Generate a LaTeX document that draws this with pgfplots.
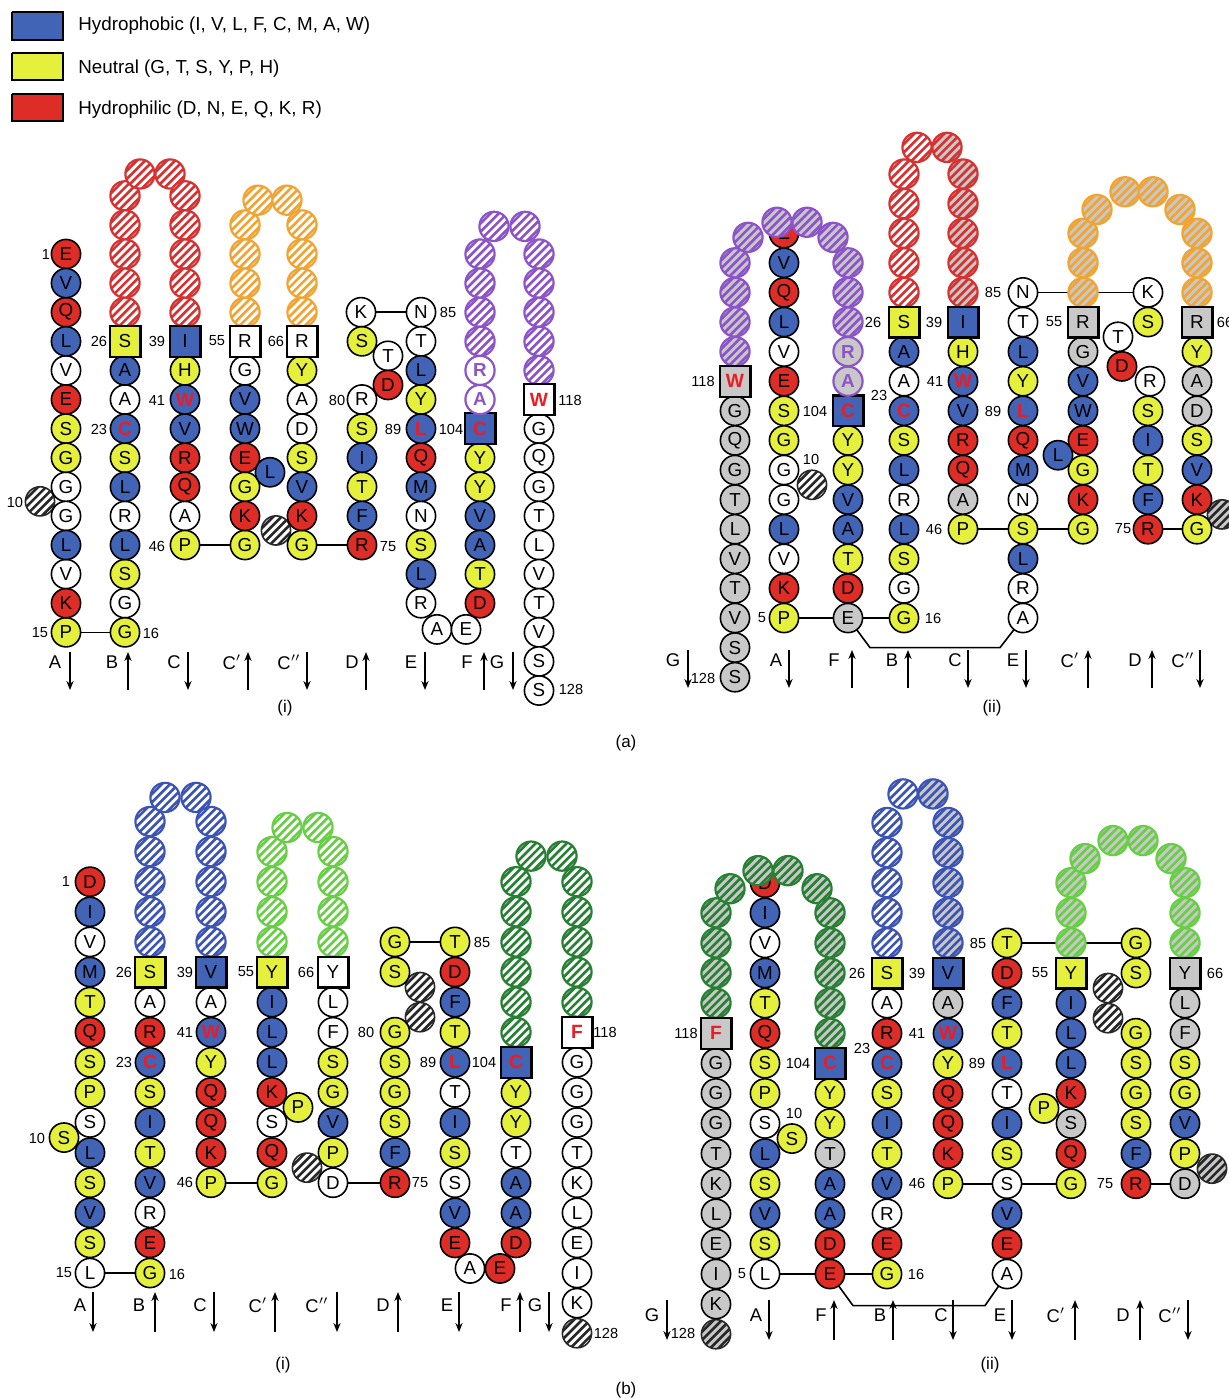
\documentclass[border=0pt]{standalone}
\usepackage{fontspec}
\setmainfont{Liberation Sans}
\usepackage{pgfplots}
\usepackage{pgfplotstable}
\pgfplotsset{compat=1.18}
\usetikzlibrary{arrows.meta}

\definecolor{cb}{RGB}{66,100,182}
\definecolor{cy}{RGB}{228,240,60}
\definecolor{cr}{RGB}{222,44,38}
\definecolor{cg}{RGB}{200,200,200}
\definecolor{cred}{RGB}{236,28,36}
\definecolor{cpur}{RGB}{140,84,200}
\definecolor{hR}{RGB}{214,50,50}
\definecolor{hO}{RGB}{240,164,52}
\definecolor{hP}{RGB}{140,84,200}
\definecolor{hB}{RGB}{60,84,180}
\definecolor{hL}{RGB}{104,206,70}
\definecolor{hG}{RGB}{40,128,52}
\definecolor{hK}{RGB}{40,40,40}

\pgfdeclareplotmark{hatch}{%
  \pgfpathcircle{\pgfpointorigin}{\pgfplotmarksize}%
  \pgfusepath{fill}%
  \begin{pgfscope}%
    \pgfpathcircle{\pgfpointorigin}{\pgfplotmarksize}%
    \pgfusepath{clip}%
    \pgfsetlinewidth{1.3pt}%
    \pgfpathmoveto{\pgfpoint{-22.3pt}{-10pt}}\pgfpathlineto{\pgfpoint{-2.3pt}{10pt}}%
    \pgfpathmoveto{\pgfpoint{-18.2pt}{-10pt}}\pgfpathlineto{\pgfpoint{1.8pt}{10pt}}%
    \pgfpathmoveto{\pgfpoint{-14.1pt}{-10pt}}\pgfpathlineto{\pgfpoint{5.9pt}{10pt}}%
    \pgfpathmoveto{\pgfpoint{-10pt}{-10pt}}\pgfpathlineto{\pgfpoint{10pt}{10pt}}%
    \pgfpathmoveto{\pgfpoint{-5.9pt}{-10pt}}\pgfpathlineto{\pgfpoint{14.1pt}{10pt}}%
    \pgfpathmoveto{\pgfpoint{-1.8pt}{-10pt}}\pgfpathlineto{\pgfpoint{18.2pt}{10pt}}%
    \pgfpathmoveto{\pgfpoint{2.3pt}{-10pt}}\pgfpathlineto{\pgfpoint{22.3pt}{10pt}}%
    \pgfusepath{stroke}%
  \end{pgfscope}%
  \pgfpathcircle{\pgfpointorigin}{\pgfplotmarksize}%
  \pgfusepath{stroke}%
}

\pgfplotsset{
  rs/.style={only marks, mark size=7.3pt, point meta=explicit symbolic,
    nodes near coords={\pgfplotspointmeta},
    every node near coord/.append style={anchor=center, inner sep=0pt, text=black,
      font=\fontsize{9.4}{10}\selectfont}},
  B/.style={rs, mark=*, mark options={fill=cb, draw=black, line width=0.8pt}},
  Y/.style={rs, mark=*, mark options={fill=cy, draw=black, line width=0.8pt}},
  R/.style={rs, mark=*, mark options={fill=cr, draw=black, line width=0.8pt}},
  W/.style={rs, mark=*, mark options={fill=white, draw=black, line width=0.8pt}},
  G/.style={rs, mark=*, mark options={fill=cg, draw=black, line width=0.8pt}},
  PW/.style={rs, mark=*, mark options={fill=white, draw=cpur, line width=1.1pt},
    every node near coord/.append style={text=cpur, font=\fontsize{9.4}{10}\selectfont\bfseries}},
  PG/.style={rs, mark=*, mark options={fill=cg, draw=cpur, line width=1.1pt},
    every node near coord/.append style={text=cpur, font=\fontsize{9.4}{10}\selectfont\bfseries}},
  BS/.style={rs, mark=square*, mark size=7.7pt, mark options={fill=cb, draw=black, line width=1.1pt}},
  YS/.style={rs, mark=square*, mark size=7.7pt, mark options={fill=cy, draw=black, line width=1.1pt}},
  WS/.style={rs, mark=square*, mark size=7.7pt, mark options={fill=white, draw=black, line width=1.1pt}},
  GS/.style={rs, mark=square*, mark size=7.7pt, mark options={fill=cg, draw=black, line width=1.1pt}},
  RT/.style={every node near coord/.append style={text=cred, font=\fontsize{9.6}{10}\selectfont\bfseries}},
  ya1/.style={y filter/.expression={254+29.1*y}},
  ya2/.style={y filter/.expression={322+29.6*y}},
  yb1/.style={y filter/.expression={972+30.1*y}},
  yb2/.style={y filter/.expression={973+30.1*y}},
  hat/.style={only marks, scatter, scatter src=explicit symbolic, mark size=7.3pt,
    scatter/classes={
      Rw={mark=hatch,draw=hR,fill=white,line width=1.1pt},
      Rg={mark=hatch,draw=hR,fill=cg,line width=1.1pt},
      Ow={mark=hatch,draw=hO,fill=white,line width=1.1pt},
      Og={mark=hatch,draw=hO,fill=cg,line width=1.1pt},
      Pw={mark=hatch,draw=hP,fill=white,line width=1.1pt},
      Pg={mark=hatch,draw=hP,fill=cg,line width=1.1pt},
      Bw={mark=hatch,draw=hB,fill=white,line width=1.1pt},
      Bg={mark=hatch,draw=hB,fill=cg,line width=1.1pt},
      Lw={mark=hatch,draw=hL,fill=white,line width=1.1pt},
      Lg={mark=hatch,draw=hL,fill=cg,line width=1.1pt},
      Gw={mark=hatch,draw=hG,fill=white,line width=1.1pt},
      Gg={mark=hatch,draw=hG,fill=cg,line width=1.1pt},
      Kw={mark=hatch,draw=hK,fill=white,line width=0.8pt},
      Kg={mark=hatch,draw=hK,fill=cg,line width=0.8pt}}},
  conn/.style={black, line width=0.8pt, no marks},
}

\newcommand{\sar}[3]{\addplot[black, line width=0.9pt, -{Stealth[length=4.5pt,width=3.6pt]}] coordinates {(#1,#2) (#1,#3)};}
\newcommand{\num}[3]{\node[font=\fontsize{7.3}{8}\selectfont] at (axis cs:#1,#2) {#3};}
\newcommand{\stl}[3]{\node[font=\fontsize{9.2}{10}\selectfont] at (axis cs:#1,#2) {#3};}

% hatched (unlabelled) loop circles: x, row index k, class
\pgfplotstableread{
x k c
125 -2 Rw
125 -1 Rw
125 0 Rw
125 1 Rw
125 2 Rw
140 -2.75 Rw
170 -2.75 Rw
185 -2 Rw
185 -1 Rw
185 0 Rw
185 1 Rw
185 2 Rw
245 -1 Ow
245 0 Ow
245 1 Ow
245 2 Ow
258 -1.85 Ow
287 -1.85 Ow
302 -1 Ow
302 0 Ow
302 1 Ow
302 2 Ow
480 0 Pw
480 1 Pw
480 2 Pw
480 3 Pw
494 -0.95 Pw
525 -0.95 Pw
539 0 Pw
539 1 Pw
539 2 Pw
539 3 Pw
539 4 Pw
40 8.5 Kw
276 9.5 Kw
}\hatAi

\pgfplotstableread{
x k c
735 -2 Pg
735 -1 Pg
735 0 Pg
735 1 Pg
748 -2.86 Pg
777 -3.37 Pg
807 -3.37 Pg
833 -2.86 Pg
848 -2 Pg
848 -1 Pg
848 0 Pg
904 -5 Rw
904 -4 Rw
904 -3 Rw
904 -2 Rw
904 -1 Rw
917 -5.9 Rw
947 -5.9 Rg
963 -5 Rg
963 -4 Rg
963 -3 Rg
963 -2 Rg
963 -1 Rg
1083 -3 Og
1083 -2 Og
1083 -1 Og
1097 -3.8 Og
1125 -4.4 Og
1153 -4.4 Og
1180 -3.8 Og
1197 -3 Og
1197 -2 Og
1197 -1 Og
812 5.5 Kw
1222 6.5 Kg
}\hatAii

\pgfplotstableread{
x k c
150 -5 Bw
150 -4 Bw
150 -3 Bw
150 -2 Bw
150 -1 Bw
165 -5.8 Bw
196 -5.8 Bw
211 -5 Bw
211 -4 Bw
211 -3 Bw
211 -2 Bw
211 -1 Bw
272 -4 Lw
272 -3 Lw
272 -2 Lw
272 -1 Lw
287 -4.8 Lw
318 -4.8 Lw
333 -4 Lw
333 -3 Lw
333 -2 Lw
333 -1 Lw
516 -3 Gw
516 -2 Gw
516 -1 Gw
516 0 Gw
516 1 Gw
516 2 Gw
531 -3.85 Gw
562 -3.85 Gw
577 -3 Gw
577 -2 Gw
577 -1 Gw
577 0 Gw
577 1 Gw
307 6.5 Kw
420 0.5 Kw
420 1.5 Kw
577 12 Kw
}\hatBi

\pgfplotstableread{
x k c
716 -2 Gg
716 -1 Gg
716 0 Gg
716 1 Gg
730 -2.8 Gg
758 -3.4 Gg
788 -3.4 Gg
817 -2.8 Gg
830 -2 Gg
830 -1 Gg
830 0 Gg
830 1 Gg
830 2 Gg
887 -5 Bw
887 -4 Bw
887 -3 Bw
887 -2 Bw
887 -1 Bw
903 -5.95 Bw
933 -5.95 Bg
948 -5 Bg
948 -4 Bg
948 -3 Bg
948 -2 Bg
948 -1 Bg
1071 -3 Lg
1071 -2 Lg
1071 -1 Lg
1085 -3.8 Lg
1113 -4.4 Lg
1143 -4.4 Lg
1171 -3.8 Lg
1185 -3 Lg
1185 -2 Lg
1185 -1 Lg
1108 0.5 Kw
1108 1.5 Kw
716 12 Kg
1212 6.5 Kg
}\hatBii

\begin{document}
\begin{tikzpicture}
\begin{axis}[
  scale only axis, width=614.5pt, height=699.5pt,
  xmin=0, xmax=1229, ymin=0, ymax=1399, y dir=reverse,
  axis lines=none, clip=false,
]
% ---- legend ----
\addplot[fill=cb, draw=black, line width=0.6pt] coordinates {(12,12) (63,12) (63,40) (12,40) (12,12)};
\addplot[fill=cy, draw=black, line width=0.6pt] coordinates {(12,53) (63,53) (63,80) (12,80) (12,53)};
\addplot[fill=cr, draw=black, line width=0.6pt] coordinates {(12,94) (63,94) (63,121) (12,121) (12,94)};
\node[anchor=west, inner sep=0pt, font=\fontsize{9.4}{11}\selectfont] at (axis cs:78,26) {Hydrophobic (I, V, L, F, C, M, A, W)};
\node[anchor=west, inner sep=0pt, font=\fontsize{9.4}{11}\selectfont] at (axis cs:78,69) {Neutral (G, T, S, Y, P, H)};
\node[anchor=west, inner sep=0pt, font=\fontsize{9.4}{11}\selectfont] at (axis cs:78,110) {Hydrophilic (D, N, E, Q, K, R)};

% ================= a(i) =================
\addplot[conn] coordinates {(66,632.3) (125,632.3)};
\addplot[conn] coordinates {(185,545) (245,545)};
\addplot[conn] coordinates {(302,545) (362,545)};
\addplot[conn] coordinates {(361,312.2) (421,312.2)};
\addplot[hat] table[x=x, y expr=254+29.1*\thisrow{k}, meta=c] {\hatAi};
\addplot[W,ya1] coordinates {(66,4)[V] (66,8)[G] (66,9)[G] (66,11)[V] (125,5)[A] (125,9)[R] (125,12)[G] (185,9)[A] (245,4)[G] (302,5)[A] (302,6)[D] (361,2)[K] (388,3.5)[T] (362,5)[R] (421,2)[N] (421,3)[T] (421,9)[N] (421,12)[R] (437,12.9)[A] (466,12.9)[E] (539,6)[G] (539,7)[Q] (539,8)[G] (539,9)[T] (539,10)[L] (539,11)[V] (539,12)[T] (539,13)[V] (539,14)[S] (539,15)[S]};
\addplot[Y,ya1] coordinates {(66,6)[S] (66,7)[G] (66,13)[P] (125,7)[S] (125,11)[S] (125,13)[G] (185,4)[H] (185,10)[P] (245,8)[G] (245,10)[G] (302,4)[Y] (302,7)[S] (302,10)[G] (362,3)[S] (362,6)[S] (362,8)[T] (421,5)[Y] (421,10)[S] (480,7)[Y] (480,8)[Y] (480,11)[T]};
\addplot[R,ya1] coordinates {(66,0)[E] (66,2)[Q] (66,5)[E] (66,12)[K] (185,7)[R] (185,8)[Q] (245,7)[E] (245,9)[K] (302,9)[K] (388,4.5)[D] (362,10)[R] (421,7)[Q] (480,12)[D]};
\addplot[B,ya1] coordinates {(66,1)[V] (66,3)[L] (66,10)[L] (125,4)[A] (125,8)[L] (125,10)[L] (185,6)[V] (245,5)[V] (245,6)[W] (270,7.5)[L] (302,8)[V] (362,7)[I] (362,9)[F] (421,4)[L] (421,8)[M] (421,11)[L] (480,9)[V] (480,10)[A]};
\addplot[B,RT,ya1] coordinates {(125,6)[C] (185,5)[W] (421,6)[L]};
\addplot[BS,ya1] coordinates {(185,3)[I]};
\addplot[BS,RT,ya1] coordinates {(480,6)[C]};
\addplot[YS,ya1] coordinates {(125,3)[S]};
\addplot[WS,ya1] coordinates {(245,3)[R] (302,3)[R]};
\addplot[WS,RT,ya1] coordinates {(539,5)[W]};
\addplot[PW,ya1] coordinates {(480,4)[R] (480,5)[A]};
\num{46}{254}{1}\num{99}{341}{26}\num{157}{341}{39}\num{217}{341}{55}\num{276}{341}{66}
\num{99}{429}{23}\num{157}{400}{41}\num{157}{546}{46}\num{15}{502}{10}\num{40}{633}{15}
\num{151}{633}{16}\num{337}{400}{80}\num{448}{312}{85}\num{388}{547}{75}\num{393}{429}{89}
\num{451}{429}{104}\num{570}{400}{118}\num{571}{689}{128}
\stl{55}{662}{A}\sar{70}{652}{690}
\stl{112}{662}{B}\sar{128}{690}{652}
\stl{174}{662}{C}\sar{188}{652}{690}
\stl{232}{662}{C$'$}\sar{248}{690}{652}
\stl{289}{662}{C$''$}\sar{307}{652}{690}
\stl{352}{662}{D}\sar{366}{690}{652}
\stl{411}{662}{E}\sar{425}{652}{690}
\stl{467}{662}{F}\sar{484}{690}{652}
\stl{497}{662}{G}\sar{513}{652}{690}
\node[font=\fontsize{8.5}{10}\selectfont] at (axis cs:285,708) {(i)};

% ================= a(ii) =================
\addplot[conn] coordinates {(784,618) (848,618) (904,618)};
\addplot[conn] coordinates {(848,618) (870,647.6) (1000,647.6) (1023,618)};
\addplot[conn] coordinates {(1023,292.4) (1148,292.4)};
\addplot[conn] coordinates {(1148,529.2) (1197,529.2)};
\addplot[R,ya2] coordinates {(784,-3)[E]};
\addplot[hat] table[x=x, y expr=322+29.6*\thisrow{k}, meta=c] {\hatAii};
\addplot[G,ya2] coordinates {(735,3)[G] (735,4)[Q] (735,5)[G] (735,6)[T] (735,7)[L] (735,8)[V] (735,9)[T] (735,10)[V] (735,11)[S] (735,12)[S] (848,10)[E] (963,6)[A] (1083,1)[G] (1197,2)[A] (1197,3)[D]};
\addplot[W,ya2] coordinates {(784,1)[V] (784,5)[G] (784,6)[G] (784,8)[V] (904,2)[A] (904,6)[R] (904,9)[G] (1023,-1)[N] (1023,0)[T] (1023,6)[N] (1023,9)[R] (1023,10)[A] (1148,-1)[K] (1118,0.5)[T] (1150,2)[R]};
\addplot[Y,ya2] coordinates {(784,3)[S] (784,4)[G] (784,10)[P] (848,4)[Y] (848,5)[Y] (848,8)[T] (904,4)[S] (904,8)[S] (904,10)[G] (963,1)[H] (963,7)[P] (1023,2)[Y] (1023,7)[S] (1083,5)[G] (1083,7)[G] (1148,0)[S] (1148,3)[S] (1148,5)[T] (1197,1)[Y] (1197,4)[S] (1197,7)[G]};
\addplot[R,ya2] coordinates {(784,-1)[Q] (784,2)[E] (784,9)[K] (848,9)[D] (963,4)[R] (963,5)[Q] (1023,4)[Q] (1083,4)[E] (1083,6)[K] (1122,1.5)[D] (1148,7)[R] (1197,6)[K]};
\addplot[B,ya2] coordinates {(784,-2)[V] (784,0)[L] (784,7)[L] (848,6)[V] (848,7)[A] (904,1)[A] (904,5)[L] (904,7)[L] (963,3)[V] (1023,1)[L] (1023,5)[M] (1023,8)[L] (1083,2)[V] (1083,3)[W] (1058,4.5)[L] (1148,4)[I] (1148,6)[F] (1197,5)[V]};
\addplot[B,RT,ya2] coordinates {(904,3)[C] (963,2)[W] (1023,3)[L]};
\addplot[BS,ya2] coordinates {(963,0)[I]};
\addplot[BS,RT,ya2] coordinates {(848,3)[C]};
\addplot[YS,ya2] coordinates {(904,0)[S]};
\addplot[GS,ya2] coordinates {(1083,0)[R] (1197,0)[R]};
\addplot[GS,RT,ya2] coordinates {(735,2)[W]};
\addplot[PG,ya2] coordinates {(848,1)[R] (848,2)[A]};
\addplot[conn] coordinates {(977.5,529.2) (1068.5,529.2)};
\num{703}{381}{118}\num{762}{618}{5}\num{815}{411}{104}\num{811}{459}{10}\num{873}{322}{26}
\num{879}{395}{23}\num{934}{322}{39}\num{935}{381}{41}\num{934}{529}{46}\num{933}{618}{16}
\num{993}{292}{85}\num{993}{411}{89}\num{1054}{322}{55}\num{1123}{529}{75}\num{1225}{322}{66}
\num{703}{678}{128}
\stl{673}{660}{G}\sar{688}{650}{688}
\stl{776}{660}{A}\sar{789}{650}{688}
\stl{834}{660}{F}\sar{852}{688}{650}
\stl{892}{660}{B}\sar{908}{688}{650}
\stl{955}{660}{C}\sar{968}{650}{688}
\stl{1013}{660}{E}\sar{1026}{650}{688}
\stl{1070}{660}{C$'$}\sar{1088}{688}{650}
\stl{1135}{660}{D}\sar{1152}{688}{650}
\stl{1183}{660}{C$''$}\sar{1200}{650}{688}
\node[font=\fontsize{8.5}{10}\selectfont] at (axis cs:992,708) {(ii)};
\node[font=\fontsize{8.5}{10}\selectfont] at (axis cs:626,743) {(a)};

% ================= b(i) =================
\addplot[conn] coordinates {(90,1273) (150,1273)};
\addplot[conn] coordinates {(211,1182.7) (272,1182.7)};
\addplot[conn] coordinates {(333,1182.7) (395,1182.7)};
\addplot[conn] coordinates {(395,941.9) (455,941.9)};
\addplot[hat] table[x=x, y expr=972+30.1*\thisrow{k}, meta=c] {\hatBi};
\addplot[W,yb1] coordinates {(90,-1)[V] (90,5)[S] (90,10)[L] (150,1)[A] (150,8)[R] (211,1)[A] (272,5)[S] (333,1)[L] (333,2)[F] (333,7)[D] (455,4)[T] (455,7)[S] (470,9.85)[A] (516,6)[T] (577,3)[G] (577,4)[G] (577,5)[G] (577,6)[T] (577,7)[K] (577,8)[L] (577,9)[E] (577,10)[I] (577,11)[K]};
\addplot[R,yb1] coordinates {(90,-3)[D] (90,2)[Q] (150,2)[R] (150,9)[E] (211,4)[Q] (211,5)[Q] (211,6)[K] (272,4)[K] (272,6)[Q] (395,7)[R] (455,0)[D] (455,9)[E] (500,9.85)[E] (516,9)[D]};
\addplot[B,yb1] coordinates {(90,-2)[I] (90,0)[M] (90,6)[L] (90,8)[V] (150,5)[I] (150,7)[V] (272,1)[I] (272,2)[L] (272,3)[L] (333,5)[V] (395,6)[F] (455,1)[F] (455,5)[I] (455,8)[V] (516,7)[A] (516,8)[A]};
\addplot[Y,yb1] coordinates {(90,1)[T] (90,3)[S] (90,4)[P] (90,7)[S] (90,9)[S] (64,5.5)[S] (150,4)[S] (150,6)[T] (150,10)[G] (211,3)[Y] (211,7)[P] (272,7)[G] (298,4.5)[P] (333,3)[S] (333,4)[G] (333,6)[P] (395,-1)[G] (395,0)[S] (395,2)[G] (395,3)[S] (395,4)[G] (395,5)[S] (455,-1)[T] (455,2)[T] (455,6)[S] (516,4)[Y] (516,5)[Y]};
\addplot[B,RT,yb1] coordinates {(150,3)[C] (211,2)[W] (455,3)[L]};
\addplot[BS,yb1] coordinates {(211,0)[V]};
\addplot[BS,RT,yb1] coordinates {(516,3)[C]};
\addplot[YS,yb1] coordinates {(150,0)[S] (272,0)[Y]};
\addplot[WS,yb1] coordinates {(333,0)[Y]};
\addplot[WS,RT,yb1] coordinates {(577,2)[F]};
\num{66}{881}{1}\num{124}{972}{26}\num{185}{972}{39}\num{246}{972}{55}\num{306}{972}{66}
\num{185}{1032}{41}\num{124}{1062}{23}\num{37}{1138}{10}\num{185}{1182}{46}\num{64}{1273}{15}
\num{177}{1274}{16}\num{366}{1032}{80}\num{482}{942}{85}\num{428}{1062}{89}\num{484}{1062}{104}
\num{420}{1183}{75}\num{605}{1032}{118}\num{606}{1333}{128}
\stl{80}{1305}{A}\sar{93}{1292}{1332}
\stl{139}{1305}{B}\sar{155}{1332}{1292}
\stl{200}{1305}{C}\sar{214}{1292}{1332}
\stl{258}{1305}{C$'$}\sar{275}{1332}{1292}
\stl{317}{1305}{C$''$}\sar{337}{1292}{1332}
\stl{383}{1305}{D}\sar{398}{1332}{1292}
\stl{447}{1305}{E}\sar{459}{1292}{1332}
\stl{506}{1305}{F}\sar{520}{1332}{1292}
\stl{535}{1305}{G}\sar{549}{1292}{1332}
\node[font=\fontsize{8.5}{10}\selectfont] at (axis cs:283,1365) {(i)};

% ================= b(ii) =================
\addplot[conn] coordinates {(765,1274) (830,1274) (887,1274)};
\addplot[conn] coordinates {(830,1274) (853,1305.6) (985,1305.6) (1007,1274)};
\addplot[conn] coordinates {(1007,942.9) (1136,942.9)};
\addplot[conn] coordinates {(1136,1183.7) (1185,1183.7)};
\addplot[R,yb2] coordinates {(765,-3)[D]};
\addplot[hat] table[x=x, y expr=973+30.1*\thisrow{k}, meta=c] {\hatBii};
\addplot[G,yb2] coordinates {(716,3)[G] (716,4)[G] (716,5)[G] (716,6)[T] (716,7)[K] (716,8)[L] (716,9)[E] (716,10)[I] (716,11)[K] (830,6)[T] (948,1)[A] (1071,5)[S] (1185,1)[L] (1185,2)[F] (1185,7)[D]};
\addplot[W,yb2] coordinates {(765,-1)[V] (765,5)[S] (765,10)[L] (887,1)[A] (887,8)[R] (1007,4)[T] (1007,7)[S] (1007,10)[A]};
\addplot[R,yb2] coordinates {(765,2)[Q] (830,9)[D] (830,10)[E] (887,2)[R] (887,9)[E] (948,4)[Q] (948,5)[Q] (948,6)[K] (1007,0)[D] (1007,9)[E] (1071,4)[K] (1071,6)[Q] (1136,7)[R]};
\addplot[B,yb2] coordinates {(765,-2)[I] (765,0)[M] (765,6)[L] (765,8)[V] (830,7)[A] (830,8)[A] (887,5)[I] (887,7)[V] (1007,1)[F] (1007,5)[I] (1007,8)[V] (1071,1)[I] (1071,2)[L] (1071,3)[L] (1136,6)[F] (1185,5)[V]};
\addplot[Y,yb2] coordinates {(765,1)[T] (765,3)[S] (765,4)[P] (765,7)[S] (765,9)[S] (792,5.5)[S] (830,4)[Y] (830,5)[Y] (887,4)[S] (887,6)[T] (887,10)[G] (948,3)[Y] (948,7)[P] (1007,-1)[T] (1007,2)[T] (1007,6)[S] (1071,7)[G] (1044,4.5)[P] (1136,-1)[G] (1136,0)[S] (1136,2)[G] (1136,3)[S] (1136,4)[G] (1136,5)[S] (1185,3)[S] (1185,4)[G] (1185,6)[P]};
\addplot[B,RT,yb2] coordinates {(887,3)[C] (948,2)[W] (1007,3)[L]};
\addplot[BS,yb2] coordinates {(948,0)[V]};
\addplot[BS,RT,yb2] coordinates {(830,3)[C]};
\addplot[YS,yb2] coordinates {(887,0)[S] (1071,0)[Y]};
\addplot[GS,yb2] coordinates {(1185,0)[Y]};
\addplot[GS,RT,yb2] coordinates {(716,2)[F]};
\addplot[conn] coordinates {(962.5,1183.7) (1056.5,1183.7)};
\num{686}{1033}{118}\num{683}{1333}{128}\num{742}{1274}{5}\num{798}{1063}{104}\num{794}{1113}{10}
\num{857}{973}{26}\num{862}{1048}{23}\num{917}{973}{39}\num{917}{1033}{41}\num{917}{1183}{46}
\num{916}{1274}{16}\num{978}{943}{85}\num{977}{1063}{89}\num{1040}{973}{55}\num{1105}{1184}{75}
\num{1215}{973}{66}
\stl{652}{1315}{G}\sar{667}{1300}{1340}
\stl{756}{1315}{A}\sar{769}{1300}{1340}
\stl{821}{1315}{F}\sar{834}{1340}{1300}
\stl{880}{1315}{B}\sar{893}{1340}{1300}
\stl{941}{1315}{C}\sar{953}{1300}{1340}
\stl{1000}{1315}{E}\sar{1012}{1300}{1340}
\stl{1056}{1315}{C$'$}\sar{1075}{1340}{1300}
\stl{1123}{1315}{D}\sar{1140}{1340}{1300}
\stl{1170}{1315}{C$''$}\sar{1188}{1300}{1340}
\node[font=\fontsize{8.5}{10}\selectfont] at (axis cs:990,1365) {(ii)};
\node[font=\fontsize{8.5}{10}\selectfont] at (axis cs:626,1390) {(b)};
\end{axis}
\pgfresetboundingbox
\path[use as bounding box] (0,0) rectangle (614.5pt,699.5pt);
\end{tikzpicture}
\end{document}
